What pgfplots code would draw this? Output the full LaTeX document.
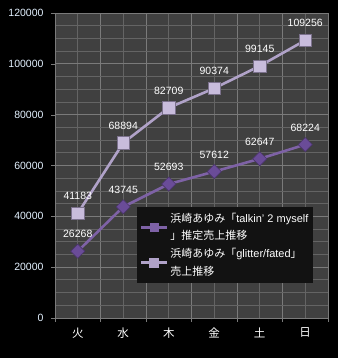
\documentclass[border=0pt]{standalone}
\usepackage{pgfplots}
\pgfplotsset{compat=1.18}
\usepackage{fontspec}
\setmainfont{Liberation Sans}
\newfontfamily\jp{Noto Sans CJK JP}
\definecolor{plotbg}{HTML}{404040}
\definecolor{gridc}{HTML}{7A7A7A}
\definecolor{mgridc}{HTML}{646464}
\definecolor{sone}{HTML}{7E62A6}
\definecolor{sonef}{HTML}{6A4C98}
\definecolor{stwo}{HTML}{B0A2C8}
\definecolor{stwof}{HTML}{C8BCDC}
\definecolor{ytl}{HTML}{E4F2FF}
\begin{document}
\begin{tikzpicture}
\useasboundingbox (0,0) rectangle (338pt,358pt);
\fill[black] (0,0) rectangle (338pt,358pt);
\begin{axis}[
  at={(55pt,40pt)}, anchor=south west,
  scale only axis, width=273pt, height=305pt,
  xmin=-0.5, xmax=5.5, ymin=0, ymax=120000,
  axis background/.style={fill=plotbg},
  axis line style={gridc},
  axis x line*=bottom, axis y line*=left,
  xtick={-0.5,0.5,1.5,2.5,3.5,4.5,5.5}, xticklabels={},
  minor xtick={0,1,2,3,4,5},
  extra x ticks={0,1,2,3,4,5},
  extra x tick labels={火,水,木,金,土,日},
  extra x tick style={grid=none, major tick length=0pt,
    xticklabel style={font=\jp\fontsize{11.5}{12}\selectfont, text=white, yshift=-6pt}},
  ytick={0,20000,...,120000},
  minor y tick num=3,
  grid=both,
  major grid style={gridc, line width=0.8pt},
  minor grid style={mgridc, line width=0.8pt},
  tick align=outside, major tick length=4pt, minor tick length=0pt,
  tick style={gridc},
  scaled y ticks=false,
  /pgf/number format/assume math mode=true,
  yticklabel={\pgfmathprintnumber[fixed,1000 sep={}]{\tick}},
  yticklabel style={font=\fontsize{10.5}{12}\selectfont, text=ytl, xshift=-4pt},
  nodes near coords,
  nodes near coords style={font=\fontsize{10.5}{12}\selectfont, text=white, anchor=center, yshift=17pt,
    /pgf/number format/.cd, fixed, 1000 sep={}, assume math mode=true},
  legend style={at={(0.300,0.364)}, anchor=north west, fill=black!93!white, draw=none,
    font=\fontsize{11}{15.5}\selectfont, text=white,
    cells={align=left, anchor=west, font=\fontsize{11}{15.5}\selectfont},
    inner xsep=3pt, inner ysep=4pt, row sep=3pt},
  legend image code/.code={\draw[mark repeat=2,mark phase=2, mark options={scale=0.6}] plot coordinates {(0cm,0cm) (0.45cm,0cm) (0.9cm,0cm)};},
  clip=false,
]
\addplot[sone, line width=2.6pt, mark=square*, mark size=5pt,
  mark options={rotate=45, fill=sonef, draw=sonef!70!black, line width=0.6pt}]
  coordinates {(0,26268) (1,43745) (2,52693) (3,57612) (4,62647) (5,68224)};
\addlegendentry{{\jp 浜崎あゆみ「}talkin' 2 myself\\[2pt]{\jp 」推定売上推移}}
\addplot[stwo, line width=2.6pt, mark=square*, mark size=6.2pt,
  mark options={fill=stwof, draw=stwo!70!black, line width=0.6pt}]
  coordinates {(0,41183) (1,68894) (2,82709) (3,90374) (4,99145) (5,109256)};
\addlegendentry{{\jp 浜崎あゆみ「}glitter/fated{\jp 」}\\[2pt]{\jp 売上推移}}
\end{axis}
\end{tikzpicture}
\end{document}
